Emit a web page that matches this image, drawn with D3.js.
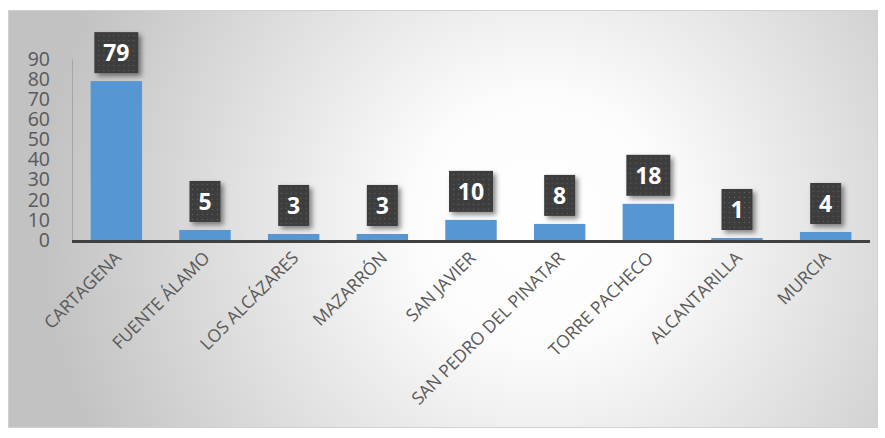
<!DOCTYPE html>
<html lang="en">
<head>
<meta charset="UTF-8">
<script src="https://cdnjs.cloudflare.com/ajax/libs/d3/7.8.5/d3.min.js"></script>
<style>
  body { margin: 0; background: #fff; }
  svg { display: block; }
</style>
</head>
<body>
<div id="container"></div>
<script>
// ---- data ----
const towns = ["CARTAGENA", "FUENTE ÁLAMO", "LOS ALCÁZARES", "MAZARRÓN", "SAN JAVIER",
  "SAN PEDRO DEL PINATAR", "TORRE PACHECO", "ALCANTARILLA", "MURCIA"];
const counts = [79, 5, 3, 3, 10, 8, 18, 1, 4];
const yTicks = [0, 10, 20, 30, 40, 50, 60, 70, 80, 90];

const W = 885, H = 438;
const plot = { left: 72, right: 870, top: 59, bottom: 240 };

const svg = d3.select("#container").append("svg")
  .attr("width", W).attr("height", H);

const defs = svg.append("defs");

// background radial gradient
const grad = defs.append("radialGradient").attr("id", "bg")
  .attr("gradientUnits", "userSpaceOnUse")
  .attr("cx", 540).attr("cy", 220).attr("r", 500);
grad.append("stop").attr("offset", "0%").attr("stop-color", "#ffffff");
grad.append("stop").attr("offset", "25%").attr("stop-color", "#fcfcfc");
grad.append("stop").attr("offset", "100%").attr("stop-color", "#c2c2c2");

// dotted pattern for label boxes
const pat = defs.append("pattern").attr("id", "dots")
  .attr("patternUnits", "userSpaceOnUse").attr("width", 5).attr("height", 5);
pat.append("rect").attr("width", 5).attr("height", 5).attr("fill", "#3d3d3d");
pat.append("circle").attr("cx", 2.5).attr("cy", 2.5).attr("r", 0.7).attr("fill", "#5e5e5e");

const shadow = defs.append("filter").attr("id", "shadow")
  .attr("x", "-30%").attr("y", "-30%").attr("width", "170%").attr("height", "170%");
shadow.append("feDropShadow").attr("dx", 3).attr("dy", 3).attr("stdDeviation", 2.5)
  .attr("flood-color", "#000").attr("flood-opacity", 0.45);

// frame
svg.append("rect")
  .attr("x", 8.5).attr("y", 10.5).attr("width", 869).attr("height", 417)
  .attr("fill", "url(#bg)").attr("stroke", "#d0d0d0");

// scales
const x = d3.scaleBand().domain(towns).range([plot.left, plot.right])
  .paddingInner(0.42).paddingOuter(0.21);
const y = d3.scaleLinear().domain([0, 90]).range([plot.bottom, plot.top]);

// y axis
const yAxis = svg.append("g")
  .attr("transform", `translate(${plot.left},0)`)
  .call(d3.axisLeft(y).tickValues(yTicks).tickSize(0).tickPadding(22));
yAxis.select(".domain").attr("stroke", "#a6a6a6").attr("stroke-width", 1);
yAxis.selectAll("text")
  .attr("fill", "#595959")
  .style("font-family", "'Open Sans', sans-serif")
  .style("font-size", "19.5px");

// bars
svg.append("g").selectAll("rect")
  .data(counts)
  .join("rect")
  .attr("x", (d, i) => x(towns[i]))
  .attr("y", d => y(d))
  .attr("width", x.bandwidth())
  .attr("height", d => y(0) - y(d))
  .attr("fill", "#5596d3");

// x axis baseline
svg.append("line")
  .attr("x1", plot.left).attr("x2", plot.right)
  .attr("y1", plot.bottom + 1.5).attr("y2", plot.bottom + 1.5)
  .attr("stroke", "#404040").attr("stroke-width", 3);

// x labels
svg.append("g").selectAll("text")
  .data(towns)
  .join("text")
  .attr("transform", d => `translate(${x(d) + x.bandwidth() / 2 + 6},${plot.bottom + 19}) rotate(-45)`)
  .attr("text-anchor", "end")
  .attr("fill", "#595959")
  .style("font-family", "'Open Sans', sans-serif")
  .style("font-size", "17.5px")
  .text(d => d);

// data labels
const lab = svg.append("g").selectAll("g")
  .data(counts)
  .join("g")
  .attr("transform", (d, i) => `translate(${x(towns[i]) + x.bandwidth() / 2},${y(d) - 8})`);

lab.each(function (d) {
  const g = d3.select(this);
  const w = String(d).length > 1 ? 44 : 31;
  g.append("rect")
    .attr("x", -w / 2).attr("y", -41)
    .attr("width", w).attr("height", 41)
    .attr("fill", "url(#dots)")
    .attr("filter", "url(#shadow)");
  g.append("text")
    .attr("y", -12)
    .attr("text-anchor", "middle")
    .attr("fill", "#ffffff")
    .style("font-family", "'Open Sans', sans-serif")
    .style("font-weight", "bold")
    .style("font-size", "23px")
    .text(d);
});
</script>
</body>
</html>
